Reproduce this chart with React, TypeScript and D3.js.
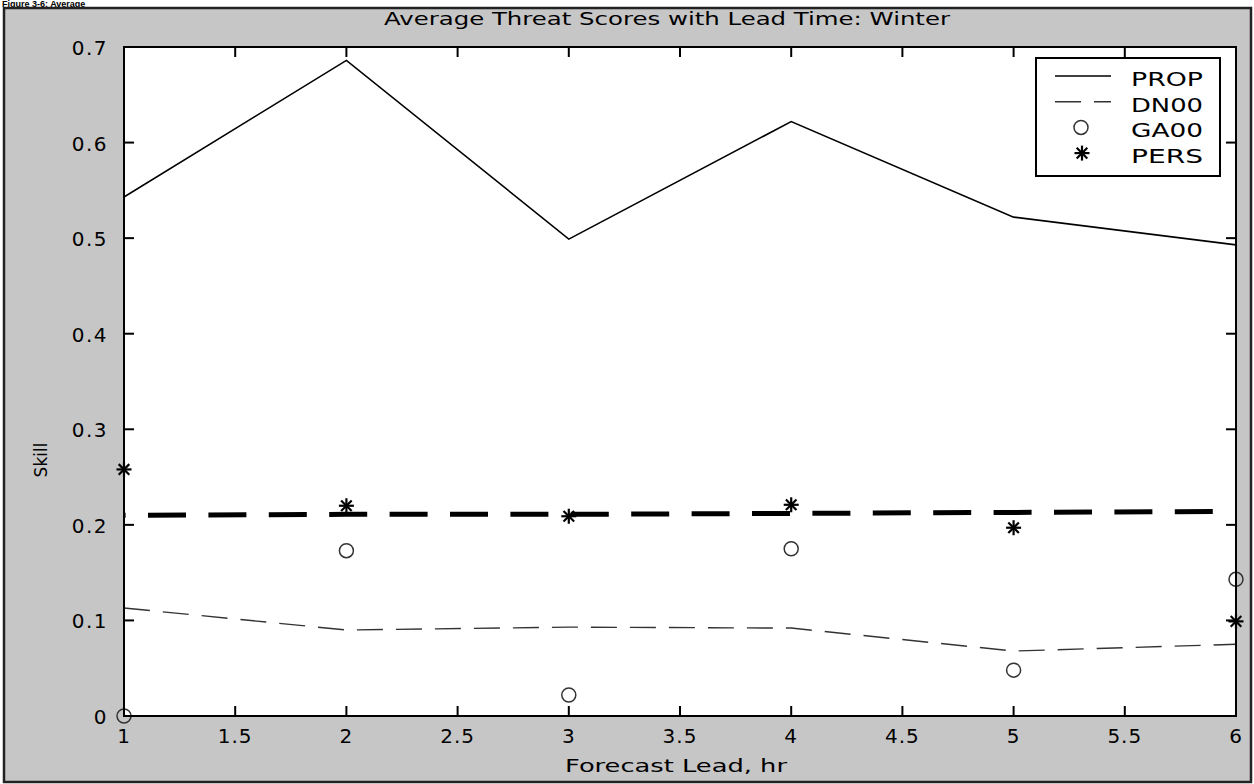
import React from 'react';
import * as d3 from 'd3';

// ---- data ----
const leadHours = [1, 2, 3, 4, 5, 6];
const propSkill = [0.543, 0.686, 0.499, 0.622, 0.522, 0.493];
const dn00Skill = [0.113, 0.090, 0.093, 0.092, 0.068, 0.075];
const ga00Skill = [0.0, 0.173, 0.022, 0.175, 0.048, 0.143];
const persSkill = [0.258, 0.220, 0.209, 0.221, 0.197, 0.099];
const refSkill = [0.210, 0.211, 0.211, 0.212, 0.213, 0.214];

const xTicks = [1, 1.5, 2, 2.5, 3, 3.5, 4, 4.5, 5, 5.5, 6];
const xTickLabels = ['1', '1.5', '2', '2.5', '3', '3.5', '4', '4.5', '5', '5.5', '6'];
const yTicks = [0, 0.1, 0.2, 0.3, 0.4, 0.5, 0.6, 0.7];
const yTickLabels = ['0', '0.1', '0.2', '0.3', '0.4', '0.5', '0.6', '0.7'];
const legendLabels = ['PROP', 'DN00', 'GA00', 'PERS'];

const titleText = 'Average Threat Scores with Lead Time: Winter';
const xLabel = 'Forecast Lead, hr';
const yLabel = 'Skill';
const figureCaption = 'Figure 3-6: Average';

const FONT = '"DejaVu Sans", Verdana, sans-serif';

function Star({ cx, cy, r }: { cx: number; cy: number; r: number }) {
  const d = r * Math.SQRT1_2;
  return (
    <g stroke="#000" strokeWidth={2.2}>
      <line x1={cx - r} y1={cy} x2={cx + r} y2={cy} />
      <line x1={cx} y1={cy - r} x2={cx} y2={cy + r} />
      <line x1={cx - d} y1={cy - d} x2={cx + d} y2={cy + d} />
      <line x1={cx - d} y1={cy + d} x2={cx + d} y2={cy - d} />
    </g>
  );
}

export default function App() {
  const W = 1254;
  const H = 784;
  const L = 124, R = 1236, T = 47, B = 716;
  const x = d3.scaleLinear().domain([1, 6]).range([L, R]);
  const y = d3.scaleLinear().domain([0, 0.7]).range([B, T]);
  const mk = (vals: number[]) =>
    d3.line<number>().x((_, i) => x(leadHours[i])).y((d) => y(d))(vals) || '';

  const tickLen = 10;

  return (
    <svg
      width={W}
      height={H}
      viewBox={`0 0 ${W} ${H}`}
      style={{ position: 'absolute', left: 0, top: 0, background: '#fff' }}
    >
      {/* figure caption above the panel */}
      <text x={2} y={7} fontFamily="Arial, 'Liberation Sans', sans-serif" fontWeight="bold" fontSize={9} fill="#000">
        {figureCaption}
      </text>
      {/* gray figure panel */}
      <rect x={4} y={8} width={1247} height={774} fill="#c6c6c6" stroke="#222" strokeWidth={2.5} />

      {/* title */}
      <text
        x={(L + R) / 2 - 13}
        y={25}
        textAnchor="middle"
        fontFamily={FONT}
        fontSize={17}
        textLength={566}
        lengthAdjust="spacingAndGlyphs"
        fill="#000"
      >
        {titleText}
      </text>

      {/* plot area */}
      <rect x={L} y={T} width={R - L} height={B - T} fill="#fff" />

      {/* ticks */}
      {xTicks.map((t, i) => (
        <g key={'xt' + i} stroke="#000" strokeWidth={2}>
          <line x1={x(t)} x2={x(t)} y1={B} y2={B - tickLen} />
          <line x1={x(t)} x2={x(t)} y1={T} y2={T + tickLen} />
        </g>
      ))}
      {yTicks.map((t, i) => (
        <g key={'yt' + i} stroke="#000" strokeWidth={2}>
          <line x1={L} x2={L + tickLen} y1={y(t)} y2={y(t)} />
          <line x1={R} x2={R - tickLen} y1={y(t)} y2={y(t)} />
        </g>
      ))}

      {/* series */}
      <path d={mk(refSkill)} fill="none" stroke="#000" strokeWidth={5} strokeDasharray="38 22.4" strokeDashoffset={-24} />
      <path d={mk(dn00Skill)} fill="none" stroke="#333" strokeWidth={1.4} strokeDasharray="26 13" />
      <path d={mk(propSkill)} fill="none" stroke="#000" strokeWidth={1.6} />
      {ga00Skill.map((v, i) => (
        <circle key={'ga' + i} cx={x(leadHours[i])} cy={y(v)} r={7} fill="none" stroke="#333" strokeWidth={1.5} />
      ))}
      {persSkill.map((v, i) => (
        <Star key={'pe' + i} cx={x(leadHours[i])} cy={y(v)} r={7.5} />
      ))}

      {/* box */}
      <rect x={L} y={T} width={R - L} height={B - T} fill="none" stroke="#000" strokeWidth={2} />

      {/* tick labels */}
      {xTicks.map((t, i) => (
        <text
          key={'xl' + i}
          x={x(t)}
          y={743}
          textAnchor="middle"
          fontFamily={FONT}
          fontSize={20}
          letterSpacing={1}
          fill="#000"
        >
          {xTickLabels[i]}
        </text>
      ))}
      {yTicks.map((t, i) => (
        <text
          key={'yl' + i}
          x={L - 16}
          y={y(t) + 8}
          textAnchor="end"
          fontFamily={FONT}
          fontSize={20}
          letterSpacing={1.5}
          fill="#000"
        >
          {yTickLabels[i]}
        </text>
      ))}

      {/* axis labels */}
      <text x={676} y={772} textAnchor="middle" fontFamily={FONT} fontSize={18} textLength={222} lengthAdjust="spacingAndGlyphs" fill="#000">
        {xLabel}
      </text>
      <text
        transform={`translate(47, 460) rotate(-90)`}
        textAnchor="middle"
        fontFamily={FONT}
        fontSize={17}
        fill="#000"
      >
        {yLabel}
      </text>

      {/* legend */}
      <g>
        <rect x={1036} y={58} width={184} height={118} fill="#fff" stroke="#000" strokeWidth={2} />
        {legendLabels.map((lab, i) => {
          const base = 86 + i * 25.7;
          const cy = base - 10;
          return (
            <g key={'lg' + i}>
              {i === 0 && <line x1={1055} x2={1111} y1={cy} y2={cy} stroke="#000" strokeWidth={1.6} />}
              {i === 1 && (
                <line x1={1055} x2={1111} y1={cy} y2={cy} stroke="#333" strokeWidth={1.4} strokeDasharray="26 13" />
              )}
              {i === 2 && <circle cx={1081} cy={cy} r={7} fill="none" stroke="#333" strokeWidth={1.5} />}
              {i === 3 && <Star cx={1082} cy={cy} r={7.5} />}
              <text
                x={1131}
                y={base}
                fontFamily={FONT}
                fontSize={19}
                textLength={72}
                lengthAdjust="spacingAndGlyphs"
                fill="#000"
              >
                {lab}
              </text>
            </g>
          );
        })}
      </g>
    </svg>
  );
}
